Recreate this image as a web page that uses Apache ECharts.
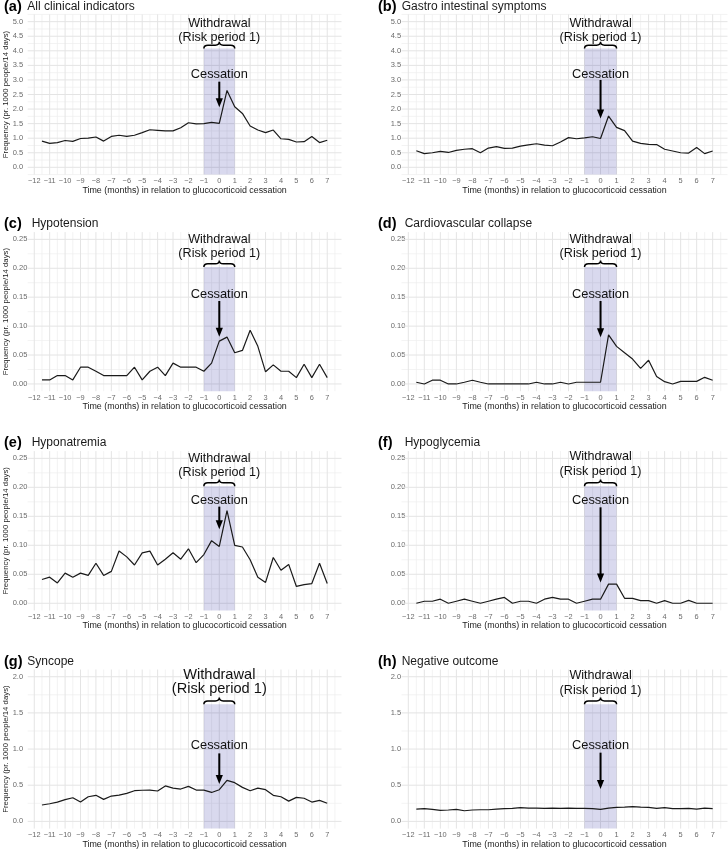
<!DOCTYPE html>
<html><head><meta charset="utf-8">
<script src="https://cdn.jsdelivr.net/npm/echarts@6/dist/echarts.min.js"></script>
<style>html,body{margin:0;padding:0;background:#fff}#c{width:728px;height:849px}</style>
</head><body><div id="c"></div>
<script>
// ---------------- DATA ----------------
const months = [-11.5,-11,-10.5,-10,-9.5,-9,-8.5,-8,-7.5,-7,-6.5,-6,-5.5,-5,-4.5,-4,-3.5,-3,-2.5,-2,-1.5,-1,-0.5,0,0.5,1,1.5,2,2.5,3,3.5,4,4.5,5,5.5,6,6.5,7];

const allClinical = [0.90,0.82,0.85,0.92,0.89,0.99,1.00,1.04,0.90,1.06,1.10,1.06,1.10,1.19,1.29,1.27,1.25,1.25,1.36,1.53,1.49,1.50,1.54,1.51,2.64,2.08,1.85,1.42,1.28,1.19,1.28,0.98,0.96,0.87,0.88,1.06,0.85,0.93];
const gastro = [0.57,0.47,0.50,0.55,0.51,0.58,0.62,0.64,0.50,0.66,0.71,0.65,0.66,0.73,0.77,0.81,0.76,0.74,0.87,1.02,0.98,1.01,1.05,0.99,1.76,1.37,1.26,0.90,0.82,0.79,0.78,0.62,0.56,0.50,0.49,0.68,0.47,0.56];
const hypotension = [0.007,0.007,0.0145,0.0145,0.007,0.029,0.029,0.022,0.0145,0.0145,0.0145,0.0145,0.029,0.007,0.022,0.029,0.0145,0.036,0.029,0.029,0.029,0.022,0.036,0.074,0.081,0.054,0.058,0.093,0.065,0.021,0.033,0.022,0.022,0.011,0.034,0.011,0.034,0.011];
const cardio = [0.003,0,0.0065,0.0065,0,0,0.003,0.0065,0.003,0,0,0,0,0,0,0.003,0,0,0.003,0,0.003,0.003,0.003,0.003,0.085,0.065,0.054,0.043,0.027,0.041,0.013,0.004,0,0.0045,0.0045,0.0045,0.0115,0.0065];
const hyponatremia = [0.041,0.045,0.035,0.052,0.045,0.052,0.048,0.069,0.048,0.055,0.090,0.080,0.066,0.087,0.090,0.066,0.076,0.087,0.076,0.094,0.070,0.084,0.108,0.098,0.160,0.100,0.097,0.075,0.045,0.036,0.079,0.057,0.067,0.029,0.032,0.034,0.069,0.034];
const hypoglycemia = [0,0.0035,0.0035,0.007,0,0.0035,0.007,0.0035,0,0.0035,0.007,0.010,0,0.0035,0.0035,0,0.007,0.010,0.007,0.007,0,0.0035,0.007,0.007,0.033,0.033,0.0085,0.0085,0.0045,0.0045,0,0.0045,0,0,0.005,0,0,0];
const syncope = [0.226,0.244,0.267,0.30,0.327,0.267,0.34,0.36,0.304,0.35,0.364,0.387,0.424,0.43,0.433,0.42,0.49,0.46,0.447,0.484,0.433,0.433,0.40,0.438,0.567,0.535,0.47,0.424,0.46,0.438,0.36,0.34,0.28,0.332,0.32,0.267,0.29,0.25];
const negative = [0.17,0.175,0.166,0.152,0.157,0.166,0.147,0.157,0.161,0.161,0.17,0.175,0.18,0.19,0.184,0.184,0.18,0.184,0.18,0.184,0.18,0.18,0.175,0.166,0.184,0.194,0.198,0.203,0.198,0.194,0.18,0.19,0.175,0.175,0.18,0.17,0.184,0.175];

const xTicks = [-12,-11,-10,-9,-8,-7,-6,-5,-4,-3,-2,-1,0,1,2,3,4,5,6,7];
const yTicksLarge = [0,0.5,1,1.5,2,2.5,3,3.5,4,4.5,5];
const yTicksSmall = [0,0.05,0.1,0.15,0.2,0.25];
const yTicksMid = [0,0.5,1,1.5,2];

const letters = ['(a)','(b)','(c)','(d)','(e)','(f)','(g)','(h)'];
const panelNames = ['All clinical indicators','Gastro intestinal symptoms','Hypotension','Cardiovascular collapse','Hyponatremia','Hypoglycemia','Syncope','Negative outcome'];
const seriesValues = [allClinical, gastro, hypotension, cardio, hyponatremia, hypoglycemia, syncope, negative];
const yTickSets = [yTicksLarge, yTicksLarge, yTicksSmall, yTicksSmall, yTicksSmall, yTicksSmall, yTicksMid, yTicksMid];
const yDecimals = [1,1,2,2,2,2,1,1];

const xTitle = 'Time (months) in relation to glucocorticoid cessation';
const yTitle = 'Frequency (pr. 1000 people/14 days)';
const txtWithdrawal = 'Withdrawal';
const txtRisk = '(Risk period 1)';
const txtCessation = 'Cessation';
const periodStart = -1, periodEnd = 1, cessationAt = 0;

// annotation heights (data units) per panel
const withdrawalY = [4.92,4.92,0.249,0.249,0.249,0.253,2.03,2.01];
const riskY = [4.46,4.46,0.225,0.225,0.225,0.228,1.825,1.815];
const shadeTop = [4.08,4.08,0.202,0.202,0.202,0.202,1.62,1.62];
const cessY = [3.20,3.20,0.1555,0.1555,0.178,0.178,1.046,1.046];
const arrowFrom = [2.94,3.0,0.1434,0.1434,0.1667,0.1655,0.94,0.95];
const arrowTo = [2.06,1.68,0.0818,0.0806,0.1276,0.036,0.516,0.447];

// ---------------- LAYOUT / STYLE ----------------
const FONT = '"Liberation Sans", Arial, Helvetica, sans-serif';
const xMin = -12.425, xMax = 7.925;
const colLeft = [27.7, 401.5], colWidth = [313.8, 326];
const yLabelMargin = [15, 10.8];
const rowTop = [14.4, 232.1, 451.1, 669.5], rowHeight = [160.2, 159.1, 159.4, 159.1];
const letterLeft = [4, 378];
const nameLeft = [27.3, 401.7, 31.7, 404.7, 31.7, 404.7, 27.3, 401.7];
const titleCenter = [7, 224, 443, 661.5];
const withdrawalFont = [12.6,12.6,12.6,12.6,12.6,12.6,14.6,12.6];
const MAJ = '#e4e4e4', MIN = '#eeeeee';
const shadeColor = 'rgba(0,0,139,0.15)';

const fmtX = v => (v < 0 ? '\u2212' + Math.abs(v) : String(v));

const grids = [], xAxes = [], yAxes = [], series = [], titles = [];

for (let i = 0; i < 8; i++) {
  const col = i % 2, row = Math.floor(i / 2);
  const yt = yTickSets[i];
  const ymax = yt[yt.length - 1];
  const ystep = yt[1] - yt[0];
  const ypad = ymax * 0.05;
  const yMin = -ypad, yMax = ymax + ypad;

  grids.push({left: colLeft[col], top: rowTop[row], width: colWidth[col], height: rowHeight[row], containLabel: false, outerBoundsMode: 'none'});

  xAxes.push({
    type: 'value', gridIndex: i, min: xMin, max: xMax,
    axisLine: {show: false, onZero: false}, axisTick: {show: false}, splitLine: {show: false},
    axisLabel: {customValues: xTicks, formatter: fmtX, fontSize: 7.4, color: '#6b6b6b', margin: 3, fontFamily: FONT},
    name: xTitle, nameLocation: 'middle', nameGap: 11, nameMoveOverlap: false,
    nameTextStyle: {fontSize: 8.9, color: '#222', fontFamily: FONT}
  });
  yAxes.push({
    type: 'value', gridIndex: i, min: yMin, max: yMax,
    axisLine: {show: false}, axisTick: {show: false}, splitLine: {show: false},
    axisLabel: {customValues: yt, formatter: v => Number(v).toFixed(yDecimals[i]), fontSize: 7.5, color: '#6b6b6b', align: 'left', margin: yLabelMargin[col], fontFamily: FONT},
    name: col === 0 ? yTitle : '', nameLocation: 'middle', nameGap: 18, nameMoveOverlap: false,
    nameTextStyle: {fontSize: 7.8, color: '#222', fontFamily: FONT}
  });

  // gridline positions
  const vMajor = xTicks.slice();
  const vMinor = [];
  for (let k = 0; k < xTicks.length; k++) {
    const a = xTicks[k] - 0.5, b = xTicks[k] + 0.5;
    if (a >= xMin && vMinor.indexOf(a) < 0) vMinor.push(a);
    if (b <= xMax && vMinor.indexOf(b) < 0) vMinor.push(b);
  }
  const hMajor = yt.slice();
  const hMinor = [];
  for (let k = 0; k < yt.length; k++) {
    const a = yt[k] - ystep / 2, b = yt[k] + ystep / 2;
    if (a >= yMin - 1e-9) hMinor.push(a);
    if (k === yt.length - 1 && b <= yMax + 1e-9) hMinor.push(b);
  }

  // background: gridlines + shaded period
  series.push({
    type: 'custom', xAxisIndex: i, yAxisIndex: i, z: 1, silent: true, animation: false,
    data: [[0, 0]],
    renderItem: (params, api) => {
      const cs = params.coordSys;
      const ch = [];
      vMinor.forEach(v => { const x = api.coord([v, 0])[0]; ch.push({type: 'line', shape: {x1: x, y1: cs.y, x2: x, y2: cs.y + cs.height}, style: {stroke: MIN, lineWidth: 0.7}}); });
      hMinor.forEach(v => { const y = api.coord([0, v])[1]; ch.push({type: 'line', shape: {x1: cs.x, y1: y, x2: cs.x + cs.width, y2: y}, style: {stroke: MIN, lineWidth: 0.7}}); });
      vMajor.forEach(v => { const x = api.coord([v, 0])[0]; ch.push({type: 'line', shape: {x1: x, y1: cs.y, x2: x, y2: cs.y + cs.height}, style: {stroke: MAJ, lineWidth: 1}}); });
      hMajor.forEach(v => { const y = api.coord([0, v])[1]; ch.push({type: 'line', shape: {x1: cs.x, y1: y, x2: cs.x + cs.width, y2: y}, style: {stroke: MAJ, lineWidth: 1}}); });
      const p1 = api.coord([periodStart, shadeTop[i]]);
      const p2 = api.coord([periodEnd, yMin]);
      ch.push({type: 'rect', shape: {x: p1[0], y: p1[1], width: p2[0] - p1[0], height: p2[1] - p1[1]}, style: {fill: shadeColor}});
      return {type: 'group', children: ch};
    }
  });

  // data line
  series.push({
    type: 'line', xAxisIndex: i, yAxisIndex: i, z: 2, silent: true, animation: false,
    showSymbol: false, symbol: 'none',
    lineStyle: {color: '#1a1a1a', width: 1.2},
    data: months.map((m, k) => [m, seriesValues[i][k]])
  });

  // annotations: brace, texts, arrow
  series.push({
    type: 'custom', xAxisIndex: i, yAxisIndex: i, z: 3, silent: true, animation: false,
    data: [[0, 0]],
    renderItem: (params, api) => {
      const ch = [];
      const xm = api.coord([cessationAt, 0])[0];
      const xl = api.coord([periodStart, 0])[0], xr = api.coord([periodEnd, 0])[0];
      const yb = api.coord([0, shadeTop[i]])[1];
      const ytp = api.coord([0, shadeTop[i] + 0.046 * ymax])[1];
      const ym = (yb + ytp) / 2, r = 4;
      const bx = (periodStart + periodEnd) / 2;
      const xc = api.coord([bx, 0])[0];
      const path = `M${xl},${yb} Q${xl},${ym} ${xl + r},${ym} L${xc - r},${ym} Q${xc},${ym} ${xc},${ytp} Q${xc},${ym} ${xc + r},${ym} L${xr - r},${ym} Q${xr},${ym} ${xr},${yb}`;
      ch.push({type: 'path', shape: {pathData: path}, style: {stroke: '#000', fill: null, lineWidth: 1.5}});
      const tw = api.coord([bx, withdrawalY[i]]);
      const tr = api.coord([bx, riskY[i]]);
      const tc = api.coord([cessationAt, cessY[i]]);
      ch.push({type: 'text', x: tw[0], y: tw[1], style: {text: txtWithdrawal, fontSize: withdrawalFont[i], fontFamily: FONT, fill: '#111', align: 'center', verticalAlign: 'middle'}});
      ch.push({type: 'text', x: tr[0], y: tr[1], style: {text: txtRisk, fontSize: withdrawalFont[i], fontFamily: FONT, fill: '#111', align: 'center', verticalAlign: 'middle'}});
      ch.push({type: 'text', x: tc[0], y: tc[1], style: {text: txtCessation, fontSize: 12.8, fontFamily: FONT, fill: '#111', align: 'center', verticalAlign: 'middle'}});
      const a0 = api.coord([cessationAt, arrowFrom[i]])[1];
      const a1 = api.coord([cessationAt, arrowTo[i]])[1];
      const hl = 9, hw = 3.6;
      ch.push({type: 'line', shape: {x1: xm, y1: a0, x2: xm, y2: a1 - hl + 1}, style: {stroke: '#000', lineWidth: 2}});
      ch.push({type: 'polygon', shape: {points: [[xm - hw, a1 - hl], [xm + hw, a1 - hl], [xm, a1]]}, style: {fill: '#000'}});
      return {type: 'group', children: ch};
    }
  });

  titles.push({text: letters[i], left: letterLeft[col], top: titleCenter[row] - 8, padding: 0,
    textStyle: {fontSize: 14.5, fontWeight: 'bold', color: '#000', fontFamily: FONT, lineHeight: 16}});
  titles.push({text: panelNames[i], left: nameLeft[i], top: titleCenter[row] - 7, padding: 0,
    textStyle: {fontSize: 12, fontWeight: 'normal', color: '#1a1a1a', fontFamily: FONT, lineHeight: 14}});
}

const chart = echarts.init(document.getElementById('c'), null, {renderer: 'canvas'});
chart.setOption({
  animation: false,
  backgroundColor: '#fff',
  textStyle: {fontFamily: FONT},
  title: titles,
  grid: grids,
  xAxis: xAxes,
  yAxis: yAxes,
  series: series
});
</script>
</body></html>
